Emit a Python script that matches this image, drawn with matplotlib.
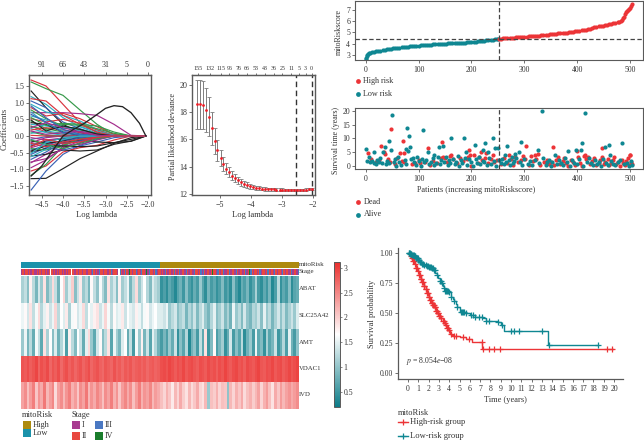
#!/usr/bin/env python3
"""
Five-panel mitoRisk figure: LASSO paths, CV deviance, risk score / survival
scatter, expression heatmap and Kaplan-Meier curves.
"""

import numpy as np
import matplotlib
matplotlib.use("Agg")
import matplotlib.pyplot as plt
from matplotlib.colors import LinearSegmentedColormap, ListedColormap
from matplotlib.lines import Line2D
from matplotlib.patches import Rectangle

W, H = 644, 441

TEAL = "#0f8792"
RED = "#ec3437"
INK = "#333333"
FRAME = "#5a5a5a"

# ---------------- LASSO coefficient paths ----------------
lasso_lambda = [-4.75, -4.4, -4.0, -3.6, -3.2, -2.8, -2.4, -2.05]
lasso_paths = [
    [1.68, 1.50, 0.95, 0.40, 0.10, 0.00, 0.00, 0.00],
    [-1.28, -1.27, -0.98, -0.68, -0.45, -0.22, -0.05, 0.00],
    [1.62, 1.42, 1.22, 0.78, 0.35, 0.03, 0.00, 0.00],
    [-1.62, -1.05, -0.55, -0.28, -0.10, 0.00, 0.00, 0.00],
    [1.18, 0.95, 0.55, 0.28, 0.08, 0.00, 0.00, 0.00],
    [0.70, 0.70, 0.70, 0.67, 0.62, 0.35, 0.02, 0.00],
    [-1.05, -0.90, -0.48, -0.35, -0.28, -0.12, 0.00, 0.00],
    [1.35, 0.85, 0.35, 0.10, 0.00, 0.00, 0.00, 0.00],
    [-1.18, -0.85, -0.30, -0.10, -0.02, 0.00, 0.00, 0.00],
    [1.05, 0.85, 0.42, 0.22, 0.05, 0.00, 0.00, 0.00],
    [0.95, 0.72, 0.62, 0.45, 0.20, 0.02, 0.00, 0.00],
    [-0.80, -0.55, -0.25, -0.12, -0.05, 0.00, 0.00, 0.00],
    [0.85, 0.60, 0.68, 0.52, 0.28, 0.05, 0.00, 0.00],
    [-0.60, -0.55, -0.42, -0.45, -0.42, -0.25, -0.15, 0.00],
    [0.78, 0.52, 0.30, 0.18, 0.08, 0.00, 0.00, 0.00],
    [-0.55, -0.35, -0.42, -0.30, -0.18, -0.05, 0.00, 0.00],
    [0.60, 0.48, 0.28, 0.15, 0.05, 0.00, 0.00, 0.00],
    [-0.95, -0.72, -0.35, -0.15, -0.03, 0.00, 0.00, 0.00],
    [0.52, 0.42, 0.50, 0.38, 0.18, 0.02, 0.00, 0.00],
    [-0.48, -0.38, -0.20, -0.12, -0.18, -0.20, -0.16, 0.00],
    [0.45, 0.22, 0.12, 0.05, 0.00, 0.00, 0.00, 0.00],
    [-0.42, -0.28, -0.12, -0.05, 0.00, 0.00, 0.00, 0.00],
    [0.35, 0.30, 0.22, 0.28, 0.15, 0.02, 0.00, 0.00],
    [-0.35, -0.22, -0.30, -0.25, -0.12, 0.00, 0.00, 0.00],
    [0.30, 0.12, 0.05, 0.00, 0.00, 0.00, 0.00, 0.00],
    [-0.30, -0.15, -0.08, -0.02, 0.00, 0.00, 0.00, 0.00],
    [0.28, 0.20, 0.35, 0.32, 0.22, 0.08, 0.00, 0.00],
    [-0.25, -0.18, -0.22, -0.15, -0.06, 0.00, 0.00, 0.00],
    [0.22, 0.10, 0.02, 0.00, 0.00, 0.00, 0.00, 0.00],
    [-0.20, -0.05, 0.00, 0.00, 0.00, 0.00, 0.00, 0.00],
    [0.18, 0.25, 0.18, 0.10, 0.03, 0.00, 0.00, 0.00],
    [-0.15, -0.22, -0.15, -0.06, 0.00, 0.00, 0.00, 0.00],
    [0.12, 0.02, 0.00, 0.00, 0.00, 0.00, 0.00, 0.00],
    [-0.10, -0.02, 0.00, 0.00, 0.00, 0.00, 0.00, 0.00],
    [0.08, 0.15, 0.08, 0.03, 0.00, 0.00, 0.00, 0.00],
    [-0.05, -0.12, -0.06, 0.00, 0.00, 0.00, 0.00, 0.00],
    [0.02, 0.00, 0.00, 0.00, 0.00, 0.00, 0.00, 0.00],
    [0.40, 0.35, 0.12, 0.02, 0.00, 0.00, 0.00, 0.00],
    [-0.38, -0.42, -0.28, -0.08, 0.00, 0.00, 0.00, 0.00],
    [-0.70, -0.48, -0.18, -0.05, 0.00, 0.00, 0.00, 0.00],
    [0.72, 0.38, 0.15, 0.04, 0.00, 0.00, 0.00, 0.00],
    [-0.78, -0.68, -0.38, -0.20, -0.05, 0.00, 0.00, 0.00],
    [1.12, 1.05, 0.62, 0.35, 0.12, 0.00, 0.00, 0.00],
    [-0.45, -0.30, -0.30, -0.32, -0.30, -0.20, -0.10, 0.00],
    [0.55, 0.32, 0.38, 0.35, 0.30, 0.12, 0.00, 0.00],
    [0.90, 0.55, 0.20, 0.06, 0.00, 0.00, 0.00, 0.00],
    [-0.62, -0.40, -0.10, 0.00, 0.00, 0.00, 0.00, 0.00],
    [0.15, 0.05, 0.10, 0.14, 0.06, 0.00, 0.00, 0.00],
    [-0.22, -0.32, -0.18, -0.10, -0.03, 0.00, 0.00, 0.00],
    [0.48, 0.15, 0.30, 0.20, 0.06, 0.00, 0.00, 0.00],
    [-0.12, -0.25, -0.38, -0.22, -0.08, 0.00, 0.00, 0.00],
    [0.65, 0.42, 0.10, 0.03, 0.00, 0.00, 0.00, 0.00],
    [-0.52, -0.20, -0.05, 0.00, 0.00, 0.00, 0.00, 0.00],
    [0.25, 0.40, 0.25, 0.12, 0.02, 0.00, 0.00, 0.00],
    [-0.32, -0.10, -0.22, -0.18, -0.04, 0.00, 0.00, 0.00],
]
lasso_colors = ["#d8353f", "#222222", "#36994a", "#3a62b5", "#2eaec2", "#a32c8c"]
peak_lambda = [-4.75, -4.5, -4.25, -4.0, -3.75, -3.5, -3.25, -3.0, -2.8, -2.6, -2.4, -2.2, -2.05]
peak_coef = [-1.20, -0.90, -0.45, 0.00, 0.20, 0.38, 0.60, 0.83, 0.91, 0.88, 0.70, 0.38, 0.00]
lasso_top_ticks = [-4.5, -4.0, -3.5, -3.0, -2.5, -2.0]
lasso_top_labels = ["91", "66", "43", "31", "5", "0"]

# ---------------- Cross-validation deviance ----------------
cv_lambda = [-5.74, -5.65, -5.55, -5.46, -5.36, -5.27, -5.17, -5.08, -4.98, -4.89,
             -4.79, -4.70, -4.60, -4.51, -4.41, -4.32, -4.22, -4.13, -4.03, -3.94,
             -3.84, -3.75, -3.65, -3.56, -3.46, -3.37, -3.27, -3.18, -3.08, -2.99,
             -2.89, -2.80, -2.70, -2.61, -2.51, -2.42, -2.32, -2.23, -2.13, -2.04]
cv_mean = [18.55, 18.55, 18.50, 18.15, 17.65, 16.80, 15.90, 15.20, 14.65, 14.20,
           13.85, 13.60, 13.35, 13.15, 13.00, 12.85, 12.75, 12.65, 12.58, 12.50,
           12.45, 12.42, 12.40, 12.37, 12.36, 12.35, 12.34, 12.33, 12.33, 12.32,
           12.31, 12.30, 12.30, 12.30, 12.31, 12.31, 12.32, 12.33, 12.34, 12.35]
cv_err = [1.82, 1.82, 1.75, 1.62, 1.42, 1.20, 0.95, 0.75, 0.60, 0.48,
          0.42, 0.38, 0.34, 0.30, 0.27, 0.25, 0.22, 0.20, 0.18, 0.16,
          0.15, 0.14, 0.13, 0.12, 0.11, 0.11, 0.10, 0.10, 0.09, 0.09,
          0.09, 0.08, 0.08, 0.08, 0.08, 0.08, 0.08, 0.08, 0.08, 0.08]
cv_top_ticks = [-5.72, -5.33, -4.97, -4.70, -4.41, -4.13, -3.84, -3.55, -3.27,
                -2.99, -2.71, -2.44, -2.24, -2.05]
cv_top_labels = ["155", "132", "115", "96", "76", "66", "53", "43", "36", "25",
                 "11", "5", "3", "0"]
cv_best = [-2.54, -2.05]

# ---------------- Risk score curve ----------------
low_rank = [0, 1, 2, 3, 4, 6, 8, 12, 16, 20, 24, 28, 32, 36, 40, 44, 48, 52, 56, 60,
            64, 68, 72, 76, 80, 84, 88, 92, 96, 100, 104, 108, 112, 116, 120, 124,
            128, 132, 136, 140, 144, 148, 152, 156, 160, 164, 168, 172, 176, 180,
            184, 188, 192, 196, 200, 204, 208, 212, 216, 220, 224, 228, 232, 236,
            240, 244, 248, 251]
low_score = [2.62, 2.78, 2.92, 3.02, 3.10, 3.17, 3.22, 3.25, 3.28, 3.32, 3.35, 3.38,
             3.41, 3.45, 3.49, 3.53, 3.56, 3.59, 3.62, 3.64, 3.66, 3.68, 3.70, 3.72,
             3.74, 3.76, 3.78, 3.79, 3.81, 3.83, 3.85, 3.86, 3.88, 3.90, 3.91, 3.92,
             3.94, 3.95, 3.96, 3.97, 3.99, 4.00, 4.01, 4.02, 4.03, 4.04, 4.05, 4.06,
             4.07, 4.08, 4.09, 4.10, 4.12, 4.13, 4.15, 4.17, 4.19, 4.21, 4.23, 4.25,
             4.27, 4.30, 4.33, 4.35, 4.37, 4.39, 4.41, 4.43]
high_rank = [252, 256, 260, 264, 268, 272, 276, 280, 284, 288, 292, 296, 300, 304,
             308, 312, 316, 320, 324, 328, 332, 336, 340, 344, 348, 352, 356, 360,
             364, 368, 372, 376, 380, 384, 388, 392, 396, 400, 404, 408, 412, 416,
             420, 424, 428, 432, 436, 440, 444, 448, 452, 456, 460, 464, 468, 472,
             476, 479, 482, 484, 486, 488, 490, 492, 494, 496, 498, 500, 502, 504]
high_score = [4.45, 4.46, 4.47, 4.48, 4.49, 4.51, 4.52, 4.53, 4.55, 4.56, 4.58, 4.60,
              4.61, 4.62, 4.64, 4.65, 4.67, 4.69, 4.70, 4.72, 4.74, 4.76, 4.79, 4.81,
              4.83, 4.85, 4.87, 4.89, 4.91, 4.93, 4.95, 4.97, 4.99, 5.01, 5.04, 5.07,
              5.10, 5.13, 5.15, 5.17, 5.19, 5.23, 5.28, 5.33, 5.38, 5.44, 5.50, 5.54,
              5.57, 5.60, 5.63, 5.67, 5.71, 5.75, 5.79, 5.84, 5.90, 5.96, 6.03, 6.12,
              6.25, 6.40, 6.62, 6.78, 6.88, 6.98, 7.07, 7.18, 7.30, 7.52]
risk_cut_rank = 252
risk_cut_score = 4.44

# ---------------- Survival scatter ----------------
alive_rank = [1, 50, 78, 82, 108, 44, 48, 77, 83, 80, 33, 36, 162, 186, 206, 226, 240,
              244, 250, 138, 147, 333, 415, 268, 283, 293, 289, 325, 383, 397, 407,
              408, 452, 460, 484, 461, 15, 117, 130, 190, 222, 232,
              2, 6, 9, 12, 16, 19, 22, 25, 27, 31, 38, 41, 45, 53, 56, 58, 61, 64,
              67, 74, 76, 86, 89, 92, 96, 98, 101, 104, 106, 111, 114, 120, 124, 127,
              129, 133, 136, 140, 143, 149, 152, 155, 158, 160, 165, 168, 171, 174,
              177, 180, 183, 188, 192, 196, 199, 203, 208, 211, 214, 217, 221, 224,
              229, 234, 237, 242, 247, 252, 255, 258, 261, 264, 266, 270, 273, 276,
              279, 281, 285, 291, 296, 300, 306, 311, 315, 320, 328, 335, 340, 343,
              347, 350, 353, 357, 361, 365, 369, 373, 377, 381, 386, 390, 394, 399,
              403, 411, 418, 422, 426, 430, 434, 438, 441, 445, 449, 455, 458, 463,
              467, 471, 476, 480, 488, 493, 497, 501, 503]
alive_time = [6.1, 18.4, 13.7, 10.8, 13.0, 9.0, 6.0, 6.1, 7.1, 5.5, 5.0, 6.8, 10.0, 10.0,
              7.7, 8.5, 10.2, 6.5, 6.7, 6.8, 7.3, 20.0, 19.3, 7.2, 4.6, 8.9, 5.0, 5.9,
              5.4, 5.8, 5.7, 8.2, 7.1, 7.7, 8.3, 4.2, 5.0, 5.1, 4.2, 5.2, 6.0, 5.1,
              1.8, 3.3, 1.6, 1.9, 1.3, 0.9, 2.4, 1.5, 2.9, 1.1, 0.8, 2.0, 1.2, 1.7,
              2.6, 0.0, 3.5, 1.4, 0.3, 2.2, 1.0, 2.6, 3.1, 1.5, 0.6, 3.5, 1.9, 0.2,
              2.7, 1.6, 2.3, 0.9, 1.4, 2.9, 0.5, 1.2, 3.4, 0.7, 2.1, 1.6, 3.3, 0.4,
              2.4, 1.1, 2.8, 0.8, 1.7, 3.7, 0.2, 2.2, 1.3, 3.0, 0.6, 2.5, 1.4, 0.1,
              2.7, 1.2, 3.4, 0.7, 2.0, 1.5, 0.4, 2.9, 1.0, 1.9, 0.2, 2.3, 1.2, 2.8,
              0.7, 3.9, 1.6, 2.4, 0.4, 3.3, 1.1, 2.0, 3.0, 1.5, 0.3, 2.6, 0.8, 1.9,
              0.5, 2.4, 1.2, 3.0, 0.6, 1.7, 2.2, 0.1, 1.4, 3.9, 0.8, 2.3, 1.1, 0.4,
              2.9, 1.6, 0.2, 2.1, 1.3, 0.7, 2.5, 0.1, 1.7, 3.0, 1.2, 0.5, 2.3, 0.9,
              1.6, 0.2, 2.8, 1.3, 0.6, 2.0, 1.0, 0.3, 1.5, 2.4, 0.8, 1.2, 0.2, 1.8,
              0.6]
dead_rank = [5, 30, 35, 36, 48, 70, 65, 72, 118, 145, 150, 162, 195, 198, 218, 228, 240,
             270, 303, 320, 326, 354, 400, 447, 500, 412,
             10, 20, 26, 42, 47, 55, 60, 68, 73, 88, 94, 100, 103, 112, 122, 128, 135,
             142, 146, 154, 159, 166, 172, 178, 184, 191, 194, 200, 205, 212, 215,
             220, 226, 231, 236, 243, 248, 256, 262, 267, 275, 278, 283, 288, 294,
             298, 302, 308, 312, 317, 322, 330, 337, 342, 346, 351, 356, 360, 363,
             367, 372, 375, 379, 383, 388, 392, 396, 401, 405, 409, 414, 417, 420,
             424, 428, 432, 436, 440, 443, 446, 450, 453, 457, 460, 464, 468, 470,
             473, 477, 481, 484, 487, 490, 492, 495, 498, 499, 502, 504]
dead_time = [4.9, 7.3, 5.0, 4.4, 13.5, 9.2, 4.8, 4.8, 6.4, 8.6, 3.0, 4.0, 6.0, 4.0, 5.0,
             4.8, 4.0, 4.0, 7.2, 4.0, 4.4, 7.1, 5.6, 6.5, 4.0, 3.8,
             2.8, 1.7, 2.2, 2.5, 1.6, 0.9, 3.0, 2.0, 1.7, 0.7, 1.3, 2.4, 1.1, 1.5, 0.6,
             2.0, 1.2, 2.9, 3.4, 1.7, 3.6, 2.6, 1.2, 3.0, 1.8, 2.7, 3.5, 0.1, 4.2,
             1.3, 3.3, 2.4, 3.1, 1.2, 2.7, 1.6, 2.1, 1.0, 3.0, 1.3, 2.5, 0.6, 3.3, 1.7,
             2.2, 3.6, 2.6, 0.4, 3.7, 1.9, 2.7, 0.6, 1.6, 2.3, 0.9, 1.5, 0.3, 2.4, 3.3,
             0.7, 1.9, 3.0, 1.1, 0.2, 2.3, 1.6, 0.5, 3.2, 1.2, 0.1, 3.9, 2.6, 3.3, 0.7,
             1.9, 2.9, 0.3, 1.2, 2.4, 3.4, 0.8, 1.7, 2.6, 0.4, 1.3, 2.2, 3.2, 0.7, 1.7,
             0.2, 2.4, 1.2, 0.5, 1.8, 3.1, 0.3, 3.9, 1.5, 0.7]

# ---------------- Heatmap ----------------
genes = ["ABAT", "SLC25A42", "AMT", "VDAC1", "IVD"]
risk_group = [0] * 50 + [1] * 50
stage_codes = [int(c) for c in
               "1212212122112121221212" "0" "212121221212122" "0" "2112122122112"
               "2132121322122112312221" "0" "321232142122312132214" "132212312"
               "21213212212321231221321221322123132122124221321231122"
               "31221321221231243212212312212321213212213212212312213"]
abat = [1.15, 1.30, 0.95, 1.75, 1.25, 0.85, 1.40, 1.05, 1.85, 0.90, 1.20, 1.90, 1.30, 0.80,
        1.65, 1.95, 1.10, 1.45, 2.00, 0.95, 1.35, 1.80, 1.05, 1.25, 0.85, 1.70, 1.30, 1.00,
        1.60, 1.20, 0.90, 1.85, 1.15, 1.40, 0.95, 1.75, 1.10, 1.30, 1.55, 0.85, 1.25, 1.90,
        1.05, 1.35, 1.65, 1.20, 0.90, 1.45, 1.25, 1.10,
        0.45, 0.60, 0.40, 0.70, 0.55, 0.35, 0.65, 0.80, 0.50, 0.95, 0.60, 0.45, 0.75, 0.55,
        1.05, 0.65, 0.40, 0.85, 0.55, 0.70, 0.45, 0.60, 0.90, 0.50, 0.65, 0.40, 0.95, 0.55,
        0.35, 0.75, 0.60, 0.85, 0.45, 0.65, 1.15, 0.55, 0.40, 0.70, 0.50, 0.85, 0.35, 0.60,
        1.25, 0.45, 0.70, 0.55, 0.95, 0.40, 0.65, 0.75]
slc25a42 = [1.55, 1.70, 1.40, 1.85, 1.30, 1.60, 1.90, 1.20, 1.50, 1.75, 1.35, 1.55, 1.95, 1.25,
            1.65, 1.45, 1.80, 1.15, 1.60, 1.70, 1.40, 1.55, 1.90, 1.30, 1.65, 1.50, 1.75, 1.85,
            1.35, 1.55, 1.95, 1.60, 1.25, 1.70, 1.45, 1.55, 1.80, 1.35, 1.65, 1.50, 1.40, 1.75,
            1.55, 1.30, 1.60, 1.70, 1.40, 1.55, 1.65, 1.45,
            1.45, 1.35, 1.55, 1.05, 1.25, 1.40, 0.95, 1.15, 1.30, 0.85, 1.20, 1.00, 1.35, 0.90,
            1.25, 1.45, 1.05, 0.85, 1.20, 1.50, 0.95, 1.10, 1.35, 0.90, 1.15, 0.80, 1.55, 1.05,
            1.25, 0.90, 1.40, 1.00, 0.85, 1.20, 1.10, 1.35, 0.95, 1.50, 1.05, 1.25, 0.85, 1.15,
            1.40, 1.00, 1.30, 0.90, 1.15, 1.35, 1.05, 1.45]
amt = [1.05, 1.55, 0.85, 1.25, 0.75, 1.60, 1.30, 0.70, 1.85, 1.15, 1.65, 0.95, 1.45, 0.80,
       1.20, 1.55, 0.60, 1.75, 1.25, 0.90, 1.65, 1.35, 0.75, 1.50, 1.90, 1.05, 0.70, 1.40,
       1.70, 0.95, 1.25, 1.85, 0.65, 1.55, 1.10, 0.85, 1.45, 1.65, 0.75, 1.30, 0.55, 1.60,
       1.05, 1.75, 0.85, 1.35, 0.65, 1.50, 1.20, 0.80,
       0.55, 0.85, 0.60, 1.05, 0.75, 1.35, 0.45, 0.95, 0.65, 1.20, 0.35, 0.80, 1.00, 0.55,
       1.30, 0.70, 1.85, 0.50, 0.90, 1.70, 0.60, 0.85, 1.10, 0.45, 0.75, 1.40, 0.55, 0.95,
       0.65, 1.25, 0.40, 0.80, 1.05, 0.55, 1.55, 0.70, 0.90, 0.45, 1.15, 0.65, 0.85, 1.35,
       0.50, 0.75, 1.20, 0.60, 1.50, 0.80, 0.55, 1.00]
vdac1 = [2.85, 2.80, 2.90, 2.78, 2.85, 2.95, 2.75, 2.88, 2.82, 2.92, 2.72, 2.85, 2.78, 2.90,
         2.70, 2.82, 2.88, 2.76, 2.84, 2.72, 2.80, 2.86, 2.74, 2.82, 2.90, 2.72, 2.80, 2.86,
         2.76, 2.70, 2.84, 2.78, 2.72, 2.86, 2.74, 2.80, 2.70, 2.82, 2.76, 2.84, 2.72, 2.78,
         2.82, 2.74, 2.80, 2.70, 2.78, 2.82, 2.74, 2.78,
         2.88, 2.92, 2.85, 2.95, 2.88, 2.80, 2.90, 2.84, 2.94, 2.82, 2.88, 2.92, 2.84, 2.78,
         2.90, 2.86, 2.80, 2.92, 2.84, 2.88, 2.78, 2.90, 2.84, 2.96, 2.86, 2.80, 2.90, 2.94,
         2.84, 2.88, 2.78, 2.92, 2.86, 2.82, 2.90, 2.96, 2.84, 2.80, 2.90, 2.86, 2.94, 2.82,
         2.88, 2.92, 2.80, 2.86, 2.94, 2.84, 2.90, 2.96]
ivd = [2.30, 2.45, 2.10, 2.35, 2.55, 2.05, 2.40, 2.25, 2.60, 2.15, 2.35, 2.50, 1.90, 2.30,
       2.45, 2.15, 2.40, 2.55, 2.20, 2.35, 2.05, 2.45, 2.30, 2.60, 2.15, 2.40, 2.25, 2.50,
       2.35, 2.10, 2.45, 2.30, 2.55, 2.20, 2.40, 2.05, 2.35, 2.50, 2.25, 2.45, 2.10, 2.35,
       2.55, 2.20, 2.40, 2.30, 2.50, 2.15, 2.35, 2.25,
       2.10, 1.95, 2.20, 2.05, 1.80, 2.15, 1.95, 2.25, 2.00, 1.85, 2.15, 1.90, 2.05, 2.25,
       1.95, 1.85, 2.15, 1.05, 2.10, 2.00, 2.20, 1.95, 2.10, 2.05, 1.00, 2.15, 1.95, 2.20,
       2.05, 2.25, 1.90, 2.10, 2.20, 2.00, 2.15, 2.30, 1.95, 2.20, 2.35, 2.10, 1.85, 2.25,
       2.05, 2.35, 2.15, 2.30, 2.40, 2.25, 2.35, 2.45]
heat_ticks = [0.5, 1, 1.5, 2, 2.5, 3]
heat_tick_labels = ["0.5", "1", "1.5", "2", "2.5", "3"]
heat_min, heat_max = 0.19, 3.12

# ---------------- Kaplan-Meier ----------------
km_high_time = [0, 0.2, 0.35, 0.5, 0.65, 0.8, 0.95, 1.1, 1.25, 1.4,
                1.55, 1.7, 1.85, 2.0, 2.15, 2.3, 2.45, 2.6, 2.75, 2.9,
                3.05, 3.2, 3.35, 3.5, 3.65, 3.8, 3.95, 4.1, 4.25, 4.4,
                5.0, 5.6, 6.2, 7.2, 19.9]
km_high_surv = [1.00, 0.98, 0.96, 0.94, 0.91, 0.88, 0.85, 0.82, 0.79, 0.76,
                0.73, 0.70, 0.67, 0.64, 0.61, 0.59, 0.57, 0.55, 0.52, 0.50,
                0.48, 0.46, 0.44, 0.42, 0.40, 0.38, 0.36, 0.33, 0.32, 0.31,
                0.30, 0.29, 0.265, 0.205, 0.205]
km_low_time = [0, 0.2, 0.4, 0.6, 0.8, 1.0, 1.2, 1.4, 1.6, 1.8,
               2.0, 2.25, 2.5, 2.65, 2.8, 2.95, 3.1, 3.25, 3.4, 3.5,
               3.6, 4.0, 4.2, 4.35, 4.5, 4.65, 4.8, 5.0, 5.5, 6.0,
               6.5, 7.3, 7.6, 8.7, 9.0, 9.3, 13.6, 18.4]
km_low_surv = [1.00, 0.995, 0.985, 0.975, 0.96, 0.945, 0.93, 0.915, 0.905, 0.895,
               0.885, 0.875, 0.86, 0.84, 0.82, 0.795, 0.77, 0.75, 0.73, 0.71,
               0.69, 0.68, 0.64, 0.62, 0.60, 0.575, 0.55, 0.51, 0.505, 0.49,
               0.47, 0.46, 0.44, 0.43, 0.40, 0.35, 0.235, 0.235]
km_high_censor = [0.3, 0.4, 0.5, 0.6, 0.7, 0.8, 0.9, 1.0, 1.1, 1.15, 1.25, 1.3, 1.4, 1.45,
                  1.55, 1.6, 1.7, 1.75, 1.85, 1.9, 2.0, 2.05, 2.15, 2.2, 2.3, 2.35, 2.45,
                  2.5, 2.6, 2.65, 2.75, 2.8, 2.9, 2.95, 3.05, 3.1, 3.25, 3.35, 3.45, 3.55,
                  3.7, 3.8, 3.9, 4.0, 4.15, 4.45, 4.7, 5.3, 5.9, 7.15, 7.3, 7.9, 8.3, 8.9,
                  19.3, 19.85]
km_low_censor = [0.05, 0.1, 0.15, 0.2, 0.25, 0.3, 0.4, 0.5, 0.55, 0.65, 0.7, 0.8, 0.85, 0.95,
                 1.0, 1.1, 1.2, 1.3, 1.4, 1.5, 1.6, 1.7, 1.8, 1.9, 2.0, 2.1, 2.2, 2.3,
                 2.4, 2.5, 2.6, 2.8, 3.1, 3.2, 3.3, 3.5, 3.6, 3.7, 3.8, 3.9, 4.0, 4.2,
                 4.5, 4.8, 5.1, 5.2, 5.3, 5.4, 5.6, 6.1, 6.3, 6.5, 6.9, 7.2, 7.6, 7.9,
                 8.7, 9.1, 10.0, 10.3, 10.8, 13.0, 13.65, 18.4]
km_ticks = list(range(21))
km_prob_ticks = [0.0, 0.25, 0.5, 0.75, 1.0]
km_prob_labels = ["0.00", "0.25", "0.50", "0.75", "1.00"]

plt.rcParams["font.family"] = ["Liberation Serif", "DejaVu Serif"]
plt.rcParams["font.size"] = 5.8
plt.rcParams["text.color"] = INK
plt.rcParams["axes.labelcolor"] = INK
plt.rcParams["xtick.labelcolor"] = INK
plt.rcParams["ytick.labelcolor"] = INK
plt.rcParams["xtick.color"] = FRAME
plt.rcParams["ytick.color"] = FRAME
plt.rcParams["axes.edgecolor"] = FRAME
plt.rcParams["xtick.major.size"] = 2
plt.rcParams["ytick.major.size"] = 2
plt.rcParams["xtick.major.width"] = 0.6
plt.rcParams["ytick.major.width"] = 0.6
plt.rcParams["xtick.major.pad"] = 2
plt.rcParams["ytick.major.pad"] = 1.5


def px_axes(fig, x0, y0, x1, y1):
    # axes box given in image pixels, origin top-left
    return fig.add_axes([x0 / W, 1 - y1 / H, (x1 - x0) / W, (y1 - y0) / H])


def km_at(times, surv, t):
    # step function value for a censoring mark
    return surv[np.searchsorted(times, t, side="right") - 1]


fig = plt.figure(figsize=(W / 100, H / 100), dpi=100)

# overlay in pixel coordinates for free labels and hand drawn keys
ov = fig.add_axes([0, 0, 1, 1], zorder=10)
ov.set_xlim(0, W)
ov.set_ylim(H, 0)
ov.axis("off")

# ---------------- Panel: LASSO paths ----------------
ax = px_axes(fig, 29, 75, 151, 195)
for i, path in enumerate(lasso_paths):
    ax.plot(lasso_lambda, path, color=lasso_colors[i % len(lasso_colors)], lw=0.85)
ax.plot(peak_lambda, peak_coef, color="#222222", lw=0.95)
ax.set_xlim(-4.8, -1.93)
ax.set_ylim(-1.77, 1.83)
ax.set_xticks([-4.5, -4.0, -3.5, -3.0, -2.5, -2.0])
ax.set_xticklabels(["−4.5", "−4.0", "−3.5", "−3.0", "−2.5", "−2.0"])
ax.set_yticks([-1.5, -1.0, -0.5, 0.0, 0.5, 1.0, 1.5])
ax.set_yticklabels(["−1.5", "−1.0", "−0.5", "0.0", "0.5", "1.0", "1.5"])
for s in ax.spines.values():
    s.set_linewidth(1.0)
top = ax.secondary_xaxis("top")
top.set_xticks(lasso_top_ticks)
top.set_xticklabels(lasso_top_labels)
ov.text(4.5, 129, "Coefficients", rotation=90, ha="center", va="center", fontsize=6.1)
ov.text(96.5, 215, "Log lambda", ha="center", va="center", fontsize=6.1)

# ---------------- Panel: CV deviance ----------------
ax = px_axes(fig, 192, 75, 315, 195)
ax.errorbar(cv_lambda, cv_mean, yerr=cv_err, fmt="none", ecolor="#7d7d7d",
            elinewidth=0.7, capsize=1.4, capthick=0.6)
ax.scatter(cv_lambda, cv_mean, s=4, color="#ee1c25", zorder=3, linewidths=0)
for v in cv_best:
    ax.axvline(v, color="#333333", lw=1.0, ls=(0, (4, 2.5)))
ax.set_xlim(-5.9, -1.94)
ax.set_ylim(11.93, 20.7)
ax.set_xticks([-5, -4, -3, -2])
ax.set_xticklabels(["−5", "−4", "−3", "−2"])
ax.set_yticks([12, 14, 16, 18, 20])
for s in ax.spines.values():
    s.set_linewidth(1.0)
top = ax.secondary_xaxis("top")
top.set_xticks(cv_top_ticks)
top.set_xticklabels(cv_top_labels, fontsize=4.3)
top.tick_params(length=1.5, pad=1.5)
ov.text(173.5, 137, "Partial likelihood deviance", rotation=90, ha="center", va="center",
        fontsize=5.9)
ov.text(253, 215, "Log lambda", ha="center", va="center", fontsize=6.1)

# ---------------- Panel: risk score ----------------
ax = px_axes(fig, 355, 0.5, 643, 60)
ax.scatter(low_rank, low_score, s=9, color=TEAL, linewidths=0)
ax.scatter(high_rank, high_score, s=9, color=RED, linewidths=0)
ax.axvline(risk_cut_rank, color="#444444", lw=0.9, ls=(0, (3.5, 2)))
ax.axhline(risk_cut_score, color="#444444", lw=0.9, ls=(0, (3.5, 2)))
ax.set_xlim(-20, 524)
ax.set_ylim(2.56, 7.82)
ax.set_xticks([0, 100, 200, 300, 400, 500])
ax.set_yticks([3, 4, 5, 6, 7])
ax.tick_params(labelsize=5.6)
ov.text(338.5, 32, "mitoRiskscore", rotation=90, ha="center", va="center", fontsize=5.8)
ov.scatter([358], [80.7], s=12, color=RED, linewidths=0)
ov.text(363.5, 80.7, "High risk", ha="left", va="center", fontsize=5.9)
ov.scatter([358], [93.5], s=12, color=TEAL, linewidths=0)
ov.text(363.5, 93.5, "Low risk", ha="left", va="center", fontsize=5.9)

# ---------------- Panel: survival scatter ----------------
ax = px_axes(fig, 355, 108, 643, 169)
ax.scatter(dead_rank, dead_time, s=9, color=RED, linewidths=0)
ax.scatter(alive_rank, alive_time, s=9, color=TEAL, linewidths=0)
ax.axvline(risk_cut_rank, color="#444444", lw=0.9, ls=(0, (3.5, 2)))
ax.set_xlim(-20, 524)
ax.set_ylim(-0.97, 20.96)
ax.set_xticks([0, 100, 200, 300, 400, 500])
ax.set_yticks([0, 5, 10, 15, 20])
ax.tick_params(labelsize=5.6)
ov.text(336, 141, "Survival time (years)", rotation=90, ha="center", va="center",
        fontsize=5.7)
ov.text(476, 190, "Patients (increasing mitoRiskscore)", ha="center", va="center",
        fontsize=5.95)
ov.scatter([358], [202], s=12, color=RED, linewidths=0)
ov.text(364, 202, "Dead", ha="left", va="center", fontsize=5.9)
ov.scatter([358], [214.5], s=12, color=TEAL, linewidths=0)
ov.text(364, 214.5, "Alive", ha="left", va="center", fontsize=5.9)

# ---------------- Panel: heatmap ----------------
cmap = LinearSegmentedColormap.from_list("tealred", ["#0c7c88", "#ffffff", "#ea2f2d"])
ax = px_axes(fig, 20.7, 262.3, 298, 267.7)
ax.imshow([risk_group], aspect="auto", cmap=ListedColormap(["#1b92aa", "#ad8a0e"]),
          interpolation="nearest")
ax.axis("off")

ax = px_axes(fig, 20.7, 269, 298, 275)
stage_cmap = ListedColormap(["#ffffff", "#a83c90", "#e8483f", "#4a78c2", "#1a7d2c"])
ax.imshow([stage_codes], aspect="auto", cmap=stage_cmap, vmin=0, vmax=4,
          interpolation="nearest")
ax.axis("off")

ax = px_axes(fig, 20.7, 275.7, 298, 408.7)
im = ax.imshow([abat, slc25a42, amt, vdac1, ivd], aspect="auto", cmap=cmap,
               vmin=heat_min, vmax=heat_max, interpolation="nearest")
ax.axis("off")

cax = px_axes(fig, 333.5, 262, 339.5, 407)
cb = fig.colorbar(im, cax=cax)
cb.set_ticks(heat_ticks)
cb.set_ticklabels(heat_tick_labels)
cb.ax.tick_params(labelsize=5.6, length=1.5, width=0.5, pad=1.5)
cb.outline.set_linewidth(0.7)

ov.text(299, 265, "mitoRisk", ha="left", va="center", fontsize=5.0)
ov.text(299, 272, "Stage", ha="left", va="center", fontsize=5.0)
for name, y in zip(genes, [289, 315.5, 342, 368, 394]):
    ov.text(299, y, name, ha="left", va="center", fontsize=4.9)

ov.text(22, 415, "mitoRisk", ha="left", va="center", fontsize=6)
ov.add_patch(Rectangle((22.7, 421.3), 8, 7.7, color="#ad8a0e", lw=0))
ov.add_patch(Rectangle((22.7, 429), 8, 7.7, color="#1b92aa", lw=0))
ov.text(32.5, 425, "High", ha="left", va="center", fontsize=6)
ov.text(32.5, 433, "Low", ha="left", va="center", fontsize=6)
ov.text(72, 415, "Stage", ha="left", va="center", fontsize=6)
stage_keys = [("I", "#a83c90", 72.3, 421), ("II", "#e8483f", 72.3, 432),
              ("III", "#4a78c2", 95.3, 421), ("IV", "#1a7d2c", 95.3, 432)]
for name, color, x, y in stage_keys:
    ov.add_patch(Rectangle((x, y), 7.7, 8, color=color, lw=0))
    ov.text(x + 9, y + 4, name, ha="left", va="center", fontsize=5.8)

# ---------------- Panel: Kaplan-Meier ----------------
ax = px_axes(fig, 398, 248, 623, 379)
ax.step(km_high_time, km_high_surv, where="post", color=RED, lw=1.0)
ax.step(km_low_time, km_low_surv, where="post", color=TEAL, lw=1.0)
ax.plot(km_high_censor, [km_at(km_high_time, km_high_surv, t) for t in km_high_censor],
        ls="none", marker="+", ms=4.5, mew=0.9, color=RED)
ax.plot(km_low_censor, [km_at(km_low_time, km_low_surv, t) for t in km_low_censor],
        ls="none", marker="+", ms=4.5, mew=0.9, color=TEAL)
ax.set_xlim(-0.97, 20.87)
ax.set_ylim(-0.047, 1.045)
ax.set_xticks(km_ticks)
ax.set_yticks(km_prob_ticks)
ax.set_yticklabels(km_prob_labels)
ax.tick_params(labelsize=5.6)
ax.spines["top"].set_visible(False)
ax.spines["right"].set_visible(False)
ax.spines["left"].set_linewidth(0.9)
ax.spines["bottom"].set_linewidth(0.9)
ax.text(-0.15, 0.105, r"$\mathit{p}$ = 8.054$\mathit{e}$−08", ha="left", va="center",
        fontsize=5.6, math_fontfamily="stix")
ov.text(372, 313.5, "Survival probability", rotation=90, ha="center", va="center",
        fontsize=6)
ov.text(505.5, 400, "Time (years)", ha="center", va="center", fontsize=6)
ov.text(398, 413, "mitoRisk", ha="left", va="center", fontsize=6)
for y, color, label in [(421.7, RED, "High-risk group"), (436, TEAL, "Low-risk group")]:
    ov.add_line(Line2D([398, 408.5], [y, y], color=color, lw=1.0))
    ov.plot([403.2], [y], marker="+", ms=4.5, mew=0.9, color=color)
    ov.text(410, y, label, ha="left", va="center", fontsize=6.1)
ov.set_xlim(0, W)
ov.set_ylim(H, 0)

fig.savefig("out.png", dpi=100)
